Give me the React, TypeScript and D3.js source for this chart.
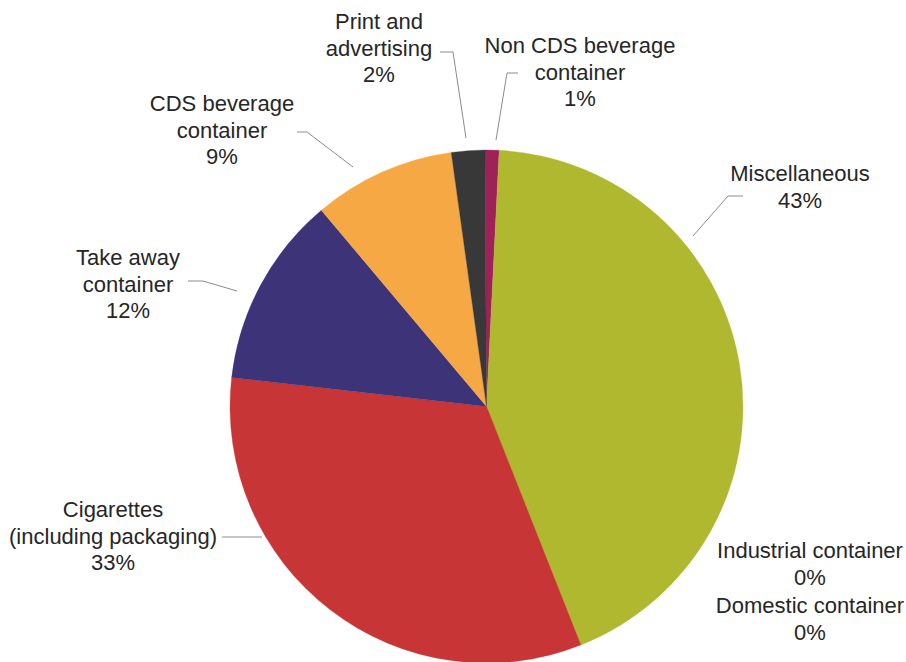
import React from "react";
import * as d3 from "d3";

const categories = [
  "Non CDS beverage container",
  "Miscellaneous",
  "Industrial container",
  "Domestic container",
  "Cigarettes (including packaging)",
  "Take away container",
  "CDS beverage container",
  "Print and advertising",
];
const values = [0.88, 43.2, 0.01, 0.01, 32.8, 12.06, 8.94, 2.1];
const percentLabels = ["1%", "43%", "0%", "0%", "33%", "12%", "9%", "2%"];
const labelLines = [
  ["Non CDS beverage", "container"],
  ["Miscellaneous"],
  ["Industrial container"],
  ["Domestic container"],
  ["Cigarettes", "(including packaging)"],
  ["Take away", "container"],
  ["CDS beverage", "container"],
  ["Print and", "advertising"],
];
const colors = ["#9E2157", "#AFB82F", "#AFB82F", "#AFB82F", "#C73536", "#3C3378", "#F5A843", "#383838"];

// layout: label anchor (center x, first baseline y) and leader polylines
const labelLayout = [
  { x: 580, y: 53, leader: [[518, 73], [507, 73], [496, 140]] },
  { x: 800, y: 181, leader: [[743, 196], [728, 196], [693, 236]] },
  { x: 810, y: 558, leader: null },
  { x: 810, y: 613, leader: null },
  { x: 113, y: 517, leader: [[222, 537], [262, 537]] },
  { x: 128, y: 265, leader: [[188, 281], [203, 281], [237, 291]] },
  { x: 222, y: 111, leader: [[297, 132], [307, 132], [353, 167]] },
  { x: 379, y: 29, leader: [[440, 52], [453, 52], [466, 138]] },
];

const W = 906;
const H = 662;
const CX = 486.5;
const CY = 406.5;
const R = 256.5;
const LINE_H = 26.5;

export default function App() {
  const data = categories.map((c, i) => ({ name: c, value: values[i], i }));
  const pie = d3
    .pie<any>()
    .sort(null)
    .value((d) => d.value)
    .startAngle(-0.0059)
    .endAngle(2 * Math.PI - 0.0059);
  const arcs = pie(data);
  const arcGen = d3.arc<any>().innerRadius(0).outerRadius(R);
  const line = d3.line();

  return (
    <svg
      width={W}
      height={H}
      style={{ position: "absolute", left: 0, top: 0, background: "#fff" }}
      fontFamily="'Liberation Sans', Arial, sans-serif"
    >
      <g transform={`translate(${CX},${CY})`}>
        {arcs.map((a, i) => (
          <path key={i} d={arcGen(a) || ""} fill={colors[i]} stroke={colors[i]} strokeWidth={0.3} />
        ))}
      </g>
      {labelLayout.map((l, i) => (
        <g key={i}>
          {l.leader && (
            <path
              d={line(l.leader as [number, number][]) || ""}
              fill="none"
              stroke="#8C8C8C"
              strokeWidth={1}
            />
          )}
          <text
            x={l.x}
            y={l.y}
            textAnchor="middle"
            fontSize={22}
            fill="#262626"
          >
            {[...labelLines[i], percentLabels[i]].map((t, j) => (
              <tspan key={j} x={l.x} y={l.y + j * LINE_H}>
                {t}
              </tspan>
            ))}
          </text>
        </g>
      ))}
    </svg>
  );
}
